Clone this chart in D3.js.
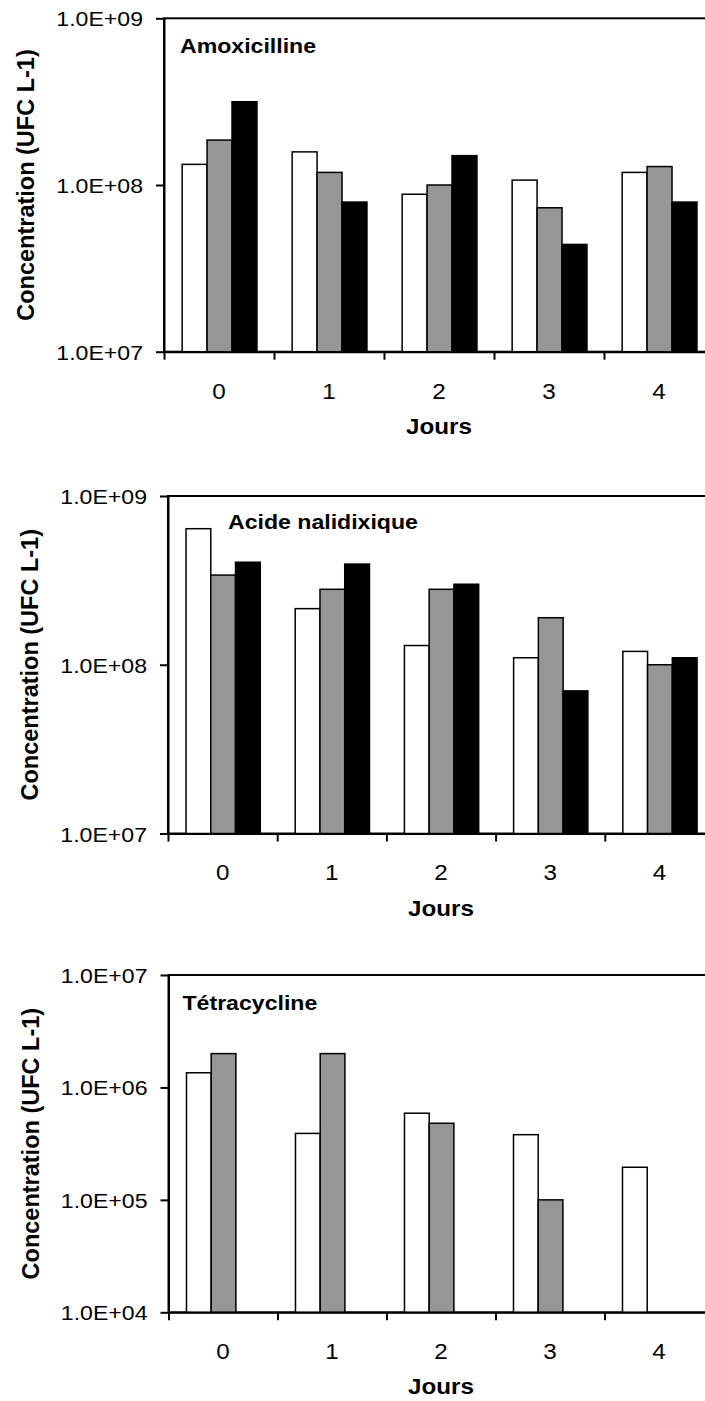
<!DOCTYPE html>
<html>
<head>
<meta charset="utf-8">
<script src="https://cdn.jsdelivr.net/npm/d3@7"></script>
<style>
  body { margin: 0; background: #fff; }
  svg { display: block; font-family: "Liberation Sans", Arial, sans-serif; }
  .axis path, .axis line { stroke: #000; stroke-width: 2; }
  .axis text { fill: #000; }
</style>
</head>
<body>
<div id="chart"></div>
<script>
// categories (days)
const days = ['0', '1', '2', '3', '4'];
const seriesKeys = ['blanc', 'gris', 'noir'];
const seriesColors = ['#ffffff', '#969696', '#000000'];

// Amoxicilline, UFC L-1
const amoxBlanc = [1.33e8, 1.58e8, 8.8e7, 1.07e8, 1.19e8];
const amoxGris  = [1.86e8, 1.19e8, 1.0e8, 7.3e7, 1.29e8];
const amoxNoir  = [3.16e8, 7.9e7, 1.5e8, 4.4e7, 7.9e7];

// Acide nalidixique, UFC L-1
const acideBlanc = [6.4e8, 2.15e8, 1.3e8, 1.1e8, 1.2e8];
const acideGris  = [3.4e8, 2.8e8, 2.8e8, 1.9e8, 1.0e8];
const acideNoir  = [4.05e8, 3.95e8, 3.0e8, 7.0e7, 1.1e8];

// Tetracycline, UFC L-1 (no third series)
const tetraBlanc = [1.35e6, 3.9e5, 5.9e5, 3.8e5, 1.95e5];
const tetraGris  = [2.0e6, 2.0e6, 4.8e5, 1.0e5, null];
const tetraNoir  = [null, null, null, null, null];

// y tick values
const highTicks = [1e7, 1e8, 1e9];
const lowTicks = [1e4, 1e5, 1e6, 1e7];

const panelTitles = ['Amoxicilline', 'Acide nalidixique', 'Tétracycline'];
const yTitle = 'Concentration (UFC L-1)';
const xTitle = 'Jours';

// excel style "1.0E+08"
const sciFormat = d => '1.0E+' + d3.format('02d')(Math.round(Math.log10(d)));
const sx = 1.1; // the original text is a bit wide

class LogBarChart {
    constructor(_config, _series, _ticks, _title) {
        this.config = _config;
        this.series = _series;
        this.ticks = _ticks;
        this.title = _title;
        this.initVis();
    }

    initVis() {
        let vis = this;
        const c = vis.config;

        vis.width = c.bandWidth * days.length;
        vis.height = c.bottom - c.top;

        vis.chart = c.svg.append('g')
            .attr('transform', `translate(${c.left},${c.top})`);

        vis.xScale = d3.scaleBand()
            .domain(days)
            .range([0, vis.width]);

        vis.xSub = d3.scaleBand()
            .domain(seriesKeys)
            .range([c.bandWidth * 0.165, c.bandWidth * 0.845]);

        vis.edgeScale = d3.scaleLinear()
            .domain([0, days.length])
            .range([0, vis.width]);

        vis.yScale = d3.scaleLog()
            .domain(d3.extent(vis.ticks))
            .range([vis.height, 0]);

        vis.colorScale = d3.scaleOrdinal()
            .domain(seriesKeys)
            .range(seriesColors);

        vis.updateVis();
    }

    updateVis() {
        let vis = this;
        // flatten to one record per bar, drop the missing ones
        vis.bars = [];
        days.forEach((d, i) => {
            seriesKeys.forEach((k, j) => {
                const v = vis.series[j][i];
                if (v != null) vis.bars.push({day: d, key: k, value: v});
            });
        });
        vis.renderVis();
    }

    renderVis() {
        let vis = this;
        const c = vis.config;

        // plot area frame (only top shows, right is off page)
        vis.chart.append('rect')
            .attr('width', vis.width)
            .attr('height', vis.height)
            .attr('fill', 'none')
            .attr('stroke', '#000')
            .attr('stroke-width', 2);

        vis.chart.selectAll('.bar')
            .data(vis.bars)
            .join('rect')
            .attr('class', 'bar')
            .attr('x', d => vis.xScale(d.day) + vis.xSub(d.key))
            .attr('y', d => vis.yScale(d.value))
            .attr('width', vis.xSub.bandwidth())
            .attr('height', d => vis.height - vis.yScale(d.value))
            .attr('fill', d => vis.colorScale(d.key))
            .attr('stroke', '#000')
            .attr('stroke-width', 1.5);

        // y axis
        const yAxisG = vis.chart.append('g')
            .attr('class', 'axis')
            .call(d3.axisLeft(vis.yScale)
                .tickValues(vis.ticks)
                .tickFormat(sciFormat)
                .tickSize(8)
                .tickSizeOuter(0));
        yAxisG.selectAll('text')
            .attr('x', -21 / sx)
            .attr('dy', '0.36em')
            .attr('transform', `scale(${sx},1)`)
            .style('font-size', '21px');

        // x tick marks between categories
        vis.chart.append('g')
            .attr('class', 'axis')
            .attr('transform', `translate(0,${vis.height})`)
            .call(d3.axisBottom(vis.edgeScale)
                .tickValues(d3.range(days.length + 1))
                .tickFormat('')
                .tickSize(8)
                .tickSizeOuter(0));

        // category labels
        const xLab = vis.chart.append('g')
            .attr('class', 'axis')
            .attr('transform', `translate(0,${vis.height})`)
            .call(d3.axisBottom(vis.xScale).tickSize(0));
        xLab.select('.domain').remove();
        xLab.selectAll('text')
            .attr('y', 47)
            .attr('dy', 0)
            .attr('transform', `scale(${sx},1)`)
            .style('font-size', '22px');

        // titles
        vis.chart.append('text')
            .attr('transform', `translate(${c.titleDx},${c.titleDy}) scale(${sx},1)`)
            .style('font-size', '21px')
            .style('font-weight', 'bold')
            .text(vis.title);

        vis.chart.append('text')
            .attr('transform', `translate(${vis.width / 2},${vis.height + 82}) scale(${sx},1)`)
            .attr('text-anchor', 'middle')
            .style('font-size', '22px')
            .style('font-weight', 'bold')
            .text(xTitle);

        vis.chart.append('text')
            .attr('transform', `translate(-130,${vis.height / 2}) rotate(-90)`)
            .attr('text-anchor', 'middle')
            .style('font-size', '23.5px')
            .style('font-weight', 'bold')
            .text(yTitle);
    }
}

const svg = d3.select('#chart').append('svg')
    .attr('width', 705)
    .attr('height', 1401);

new LogBarChart({svg: svg, left: 164, top: 18.3, bottom: 351.7, bandWidth: 110, titleDx: 16, titleDy: 35},
    [amoxBlanc, amoxGris, amoxNoir], highTicks, panelTitles[0]);
new LogBarChart({svg: svg, left: 168, top: 496, bottom: 833.5, bandWidth: 109.2, titleDx: 60, titleDy: 33},
    [acideBlanc, acideGris, acideNoir], highTicks, panelTitles[1]);
new LogBarChart({svg: svg, left: 168.5, top: 975, bottom: 1312.3, bandWidth: 109, titleDx: 14, titleDy: 35},
    [tetraBlanc, tetraGris, tetraNoir], lowTicks, panelTitles[2]);
</script>
</body>
</html>
